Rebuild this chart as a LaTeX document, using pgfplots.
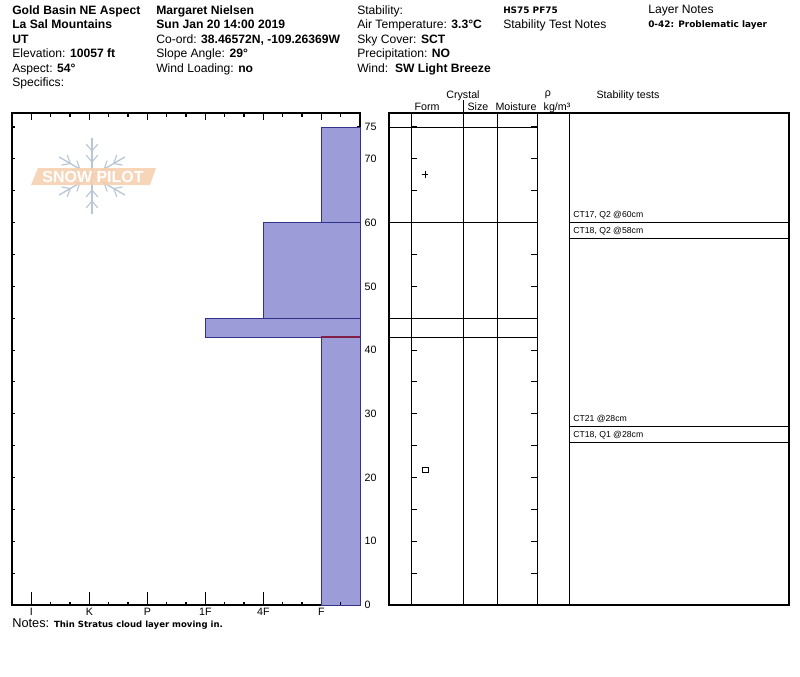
\documentclass[border=0pt]{standalone}
\usepackage{fontspec}
\setmainfont{Liberation Sans}
\newfontfamily\dvb{DejaVu Sans}
\usepackage{pgfplots}
\pgfplotsset{compat=1.18}
\definecolor{barfill}{RGB}{156,156,216}
\definecolor{baredge}{RGB}{50,50,140}
\definecolor{weak}{RGB}{128,30,70}
\definecolor{flake}{RGB}{185,198,214}
\definecolor{peach}{RGB}{246,208,176}
\newcommand\hf{\fontsize{9.1}{10.9}\selectfont}
\newcommand\smbf{\dvb\bfseries\fontsize{6.7}{8}\selectfont}
\newcommand\cf{\fontsize{8}{9}\selectfont}
\newcommand\stf{\fontsize{6.5}{7.5}\selectfont}
\pgfplotsset{tk/.style={black,line width=0.9pt,forget plot}}
\begin{document}
\begin{tikzpicture}
\useasboundingbox (0pt,0pt) rectangle (600pt,-507pt);
% ---------- header ----------
\begin{scope}[x=0.75pt,y=-0.75pt,every node/.style={anchor=base west,inner sep=0pt}]
\node[font=\hf] at (12,14) {\textbf{Gold Basin NE Aspect}};
\node[font=\hf] at (12,28.6) {\textbf{La Sal Mountains}};
\node[font=\hf] at (12,43.1) {\textbf{UT}};
\node[font=\hf] at (12,57.7) {Elevation: \textbf{10057 ft}};
\node[font=\hf] at (12,72.2) {Aspect: \textbf{54°}};
\node[font=\hf] at (12,86.7) {Specifics:};
\node[font=\hf] at (156,14) {\textbf{Margaret Nielsen}};
\node[font=\hf] at (156,28.6) {\textbf{Sun Jan 20 14:00 2019}};
\node[font=\hf] at (156,43.1) {Co-ord: \textbf{38.46572N, -109.26369W}};
\node[font=\hf] at (156,57.7) {Slope Angle: \textbf{29°}};
\node[font=\hf] at (156,72.2) {Wind Loading: \textbf{no}};
\node[font=\hf] at (357,14) {Stability:};
\node[font=\hf] at (357,28.6) {Air Temperature: \textbf{3.3°C}};
\node[font=\hf] at (357,43.1) {Sky Cover: \textbf{SCT}};
\node[font=\hf] at (357,57.7) {Precipitation: \textbf{NO}};
\node[font=\hf] at (357,72.2) {Wind:\ \ \textbf{SW Light Breeze}};
\node[font=\smbf] at (503,13.3) {HS75 PF75};
\node[font=\hf] at (503,28.5) {Stability Test Notes};
\node[font=\hf] at (648,13.3) {Layer Notes};
\node[font=\smbf] at (648,27.8) {0-42: Problematic layer};
% column headers
\node[font=\cf,anchor=base] at (463,98) {Crystal};
\node[font=\cf,anchor=base] at (427,110) {Form};
\node[font=\cf,anchor=base] at (478,110) {Size};
\node[font=\cf,anchor=base] at (516,110) {Moisture};
\node[font=\cf,anchor=base] at (548,96) {ρ};
\node[font=\cf,anchor=base] at (557,110) {kg/m³};
\node[font=\cf,anchor=base] at (628,98) {Stability tests};
% stability tests
\node[font=\stf] at (573,217) {CT17, Q2 @60cm};
\node[font=\stf] at (573,233.5) {CT18, Q2 @58cm};
\node[font=\stf] at (573,421) {CT21 @28cm};
\node[font=\stf] at (573,437) {CT18, Q1 @28cm};
% notes
\node at (12,627) {\fontsize{9.6}{11}\selectfont Notes: {\dvb\bfseries\fontsize{6.4}{7}\selectfont Thin Stratus cloud layer moving in.}};
% logo
\foreach \a in {30,90,150,210,270,330}{
  \draw[flake,line width=1pt] (92,176) -- ++(\a:38);
  \foreach \d in {14,25}{
    \draw[flake,line width=0.85pt] (92,176) ++(\a:\d) -- ++(\a+40:9);
    \draw[flake,line width=0.85pt] (92,176) ++(\a:\d) -- ++(\a-40:9);
  }
}
\fill[peach,opacity=0.9] (38,168) -- (156,168) -- (150,185) -- (31,185) -- cycle;
\node[anchor=center,font=\bfseries\fontsize{12}{12}\selectfont,text=white] at (93,177) {SNOW PILOT};
\end{scope}
% ---------- hardness profile ----------
\begin{axis}[
  at={(9pt,-453.75pt)}, anchor=south west,
  scale only axis, width=261pt, height=369pt,
  xmin=0.66667, xmax=6.66667, ymin=0, ymax=77.2,
  axis line style={black,line width=0.8pt},
  xtick={1,2,3,4,5,6}, xticklabels={I,K,P,1F,4F,F},
  xtick style={draw=none},
  xticklabel style={font=\cf,inner sep=0pt,yshift=-2.3pt},
  ytick={0,10,20,30,40,50,60,70,75},
  minor ytick={5,15,25,35,45,55,65},
  ytick pos=both, yticklabel pos=right,
  tick align=inside,
  major tick length=2.6pt, minor tick length=2.6pt,
  tick style={black,line width=0.8pt},
  yticklabel style={font=\cf,/pgf/number format/assume math mode=true},
  clip=false,
]
% hardness bars
\addplot[fill=barfill,draw=baredge,line width=0.6pt] coordinates {(6,0) (6.66667,0) (6.66667,42) (6,42)} --cycle;
\addplot[fill=barfill,draw=baredge,line width=0.6pt] coordinates {(4,42) (6.66667,42) (6.66667,45) (4,45)} --cycle;
\addplot[fill=barfill,draw=baredge,line width=0.6pt] coordinates {(5,45) (6.66667,45) (6.66667,60) (5,60)} --cycle;
\addplot[fill=barfill,draw=baredge,line width=0.6pt] coordinates {(6,60) (6.66667,60) (6.66667,75) (6,75)} --cycle;
\addplot[weak,line width=1.5pt] coordinates {(6,42) (6.66667,42)};
% bottom x ticks
\addplot[tk] coordinates {(1,0) (1,2.0)};
\addplot[tk] coordinates {(2,0) (2,2.0)};
\addplot[tk] coordinates {(3,0) (3,2.0)};
\addplot[tk] coordinates {(4,0) (4,2.0)};
\addplot[tk] coordinates {(5,0) (5,2.0)};
\addplot[tk] coordinates {(1.33333,0) (1.33333,0.55)};
\addplot[tk] coordinates {(1.66667,0) (1.66667,0.55)};
\addplot[tk] coordinates {(2.33333,0) (2.33333,0.55)};
\addplot[tk] coordinates {(2.66667,0) (2.66667,0.55)};
\addplot[tk] coordinates {(3.33333,0) (3.33333,0.55)};
\addplot[tk] coordinates {(3.66667,0) (3.66667,0.55)};
\addplot[tk] coordinates {(4.33333,0) (4.33333,0.55)};
\addplot[tk] coordinates {(4.66667,0) (4.66667,0.55)};
\addplot[tk] coordinates {(5.33333,0) (5.33333,0.55)};
\addplot[tk] coordinates {(5.66667,0) (5.66667,0.55)};
\addplot[tk] coordinates {(6.33333,0) (6.33333,0.55)};
% top x ticks
\addplot[tk] coordinates {(1,77.2) (1,76.1)};
\addplot[tk] coordinates {(2,77.2) (2,76.1)};
\addplot[tk] coordinates {(3,77.2) (3,76.1)};
\addplot[tk] coordinates {(4,77.2) (4,76.1)};
\addplot[tk] coordinates {(5,77.2) (5,76.1)};
\addplot[tk] coordinates {(6,77.2) (6,76.1)};
\addplot[tk] coordinates {(1.33333,77.2) (1.33333,76.65)};
\addplot[tk] coordinates {(1.66667,77.2) (1.66667,76.65)};
\addplot[tk] coordinates {(2.33333,77.2) (2.33333,76.65)};
\addplot[tk] coordinates {(2.66667,77.2) (2.66667,76.65)};
\addplot[tk] coordinates {(3.33333,77.2) (3.33333,76.65)};
\addplot[tk] coordinates {(3.66667,77.2) (3.66667,76.65)};
\addplot[tk] coordinates {(4.33333,77.2) (4.33333,76.65)};
\addplot[tk] coordinates {(4.66667,77.2) (4.66667,76.65)};
\addplot[tk] coordinates {(5.33333,77.2) (5.33333,76.65)};
\addplot[tk] coordinates {(5.66667,77.2) (5.66667,76.65)};
\addplot[tk] coordinates {(6.33333,77.2) (6.33333,76.65)};
\end{axis}
% ---------- layer table ----------
\begin{axis}[
  at={(291.75pt,-453.75pt)}, anchor=south west,
  scale only axis, width=300pt, height=369pt,
  xmin=389, xmax=789, ymin=0, ymax=77.2,
  axis line style={black,line width=0.8pt},
  xtick=\empty, ytick=\empty,
  clip=false,
]
\addplot[black,line width=0.75pt] coordinates {(411,0) (411,77.2)};
\addplot[black,line width=0.75pt] coordinates {(463,0) (463,79.2)};
\addplot[black,line width=0.75pt] coordinates {(497,0) (497,77.2)};
\addplot[black,line width=0.75pt] coordinates {(537,0) (537,77.2)};
\addplot[black,line width=0.75pt] coordinates {(569,0) (569,77.2)};
\addplot[black,line width=0.75pt] coordinates {(389,75) (537,75)};
\addplot[black,line width=0.75pt] coordinates {(389,60) (537,60)};
\addplot[black,line width=0.75pt] coordinates {(389,45) (537,45)};
\addplot[black,line width=0.75pt] coordinates {(389,42) (537,42)};
\addplot[black,line width=0.75pt] coordinates {(569,60) (789,60)};
\addplot[black,line width=0.75pt] coordinates {(569,57.5) (789,57.5)};
\addplot[black,line width=0.75pt] coordinates {(569,28) (789,28)};
\addplot[black,line width=0.75pt] coordinates {(569,25.5) (789,25.5)};
\pgfplotsinvokeforeach{5,10,15,20,25,30,35,40,45,50,55,60,65,70,75}{
  \draw[line width=0.8pt] (axis cs:411,#1) -- ++(4.5pt,0pt);
  \draw[line width=0.8pt] (axis cs:537,#1) -- ++(-4.5pt,0pt);
}
\addplot[only marks,mark=+,mark size=2.6pt,black,line width=0.6pt] coordinates {(425,67.6)};
\addplot[only marks,mark=square,mark size=2.2pt,black,line width=0.6pt] coordinates {(425,21.2)};
\end{axis}
\end{tikzpicture}
\end{document}
